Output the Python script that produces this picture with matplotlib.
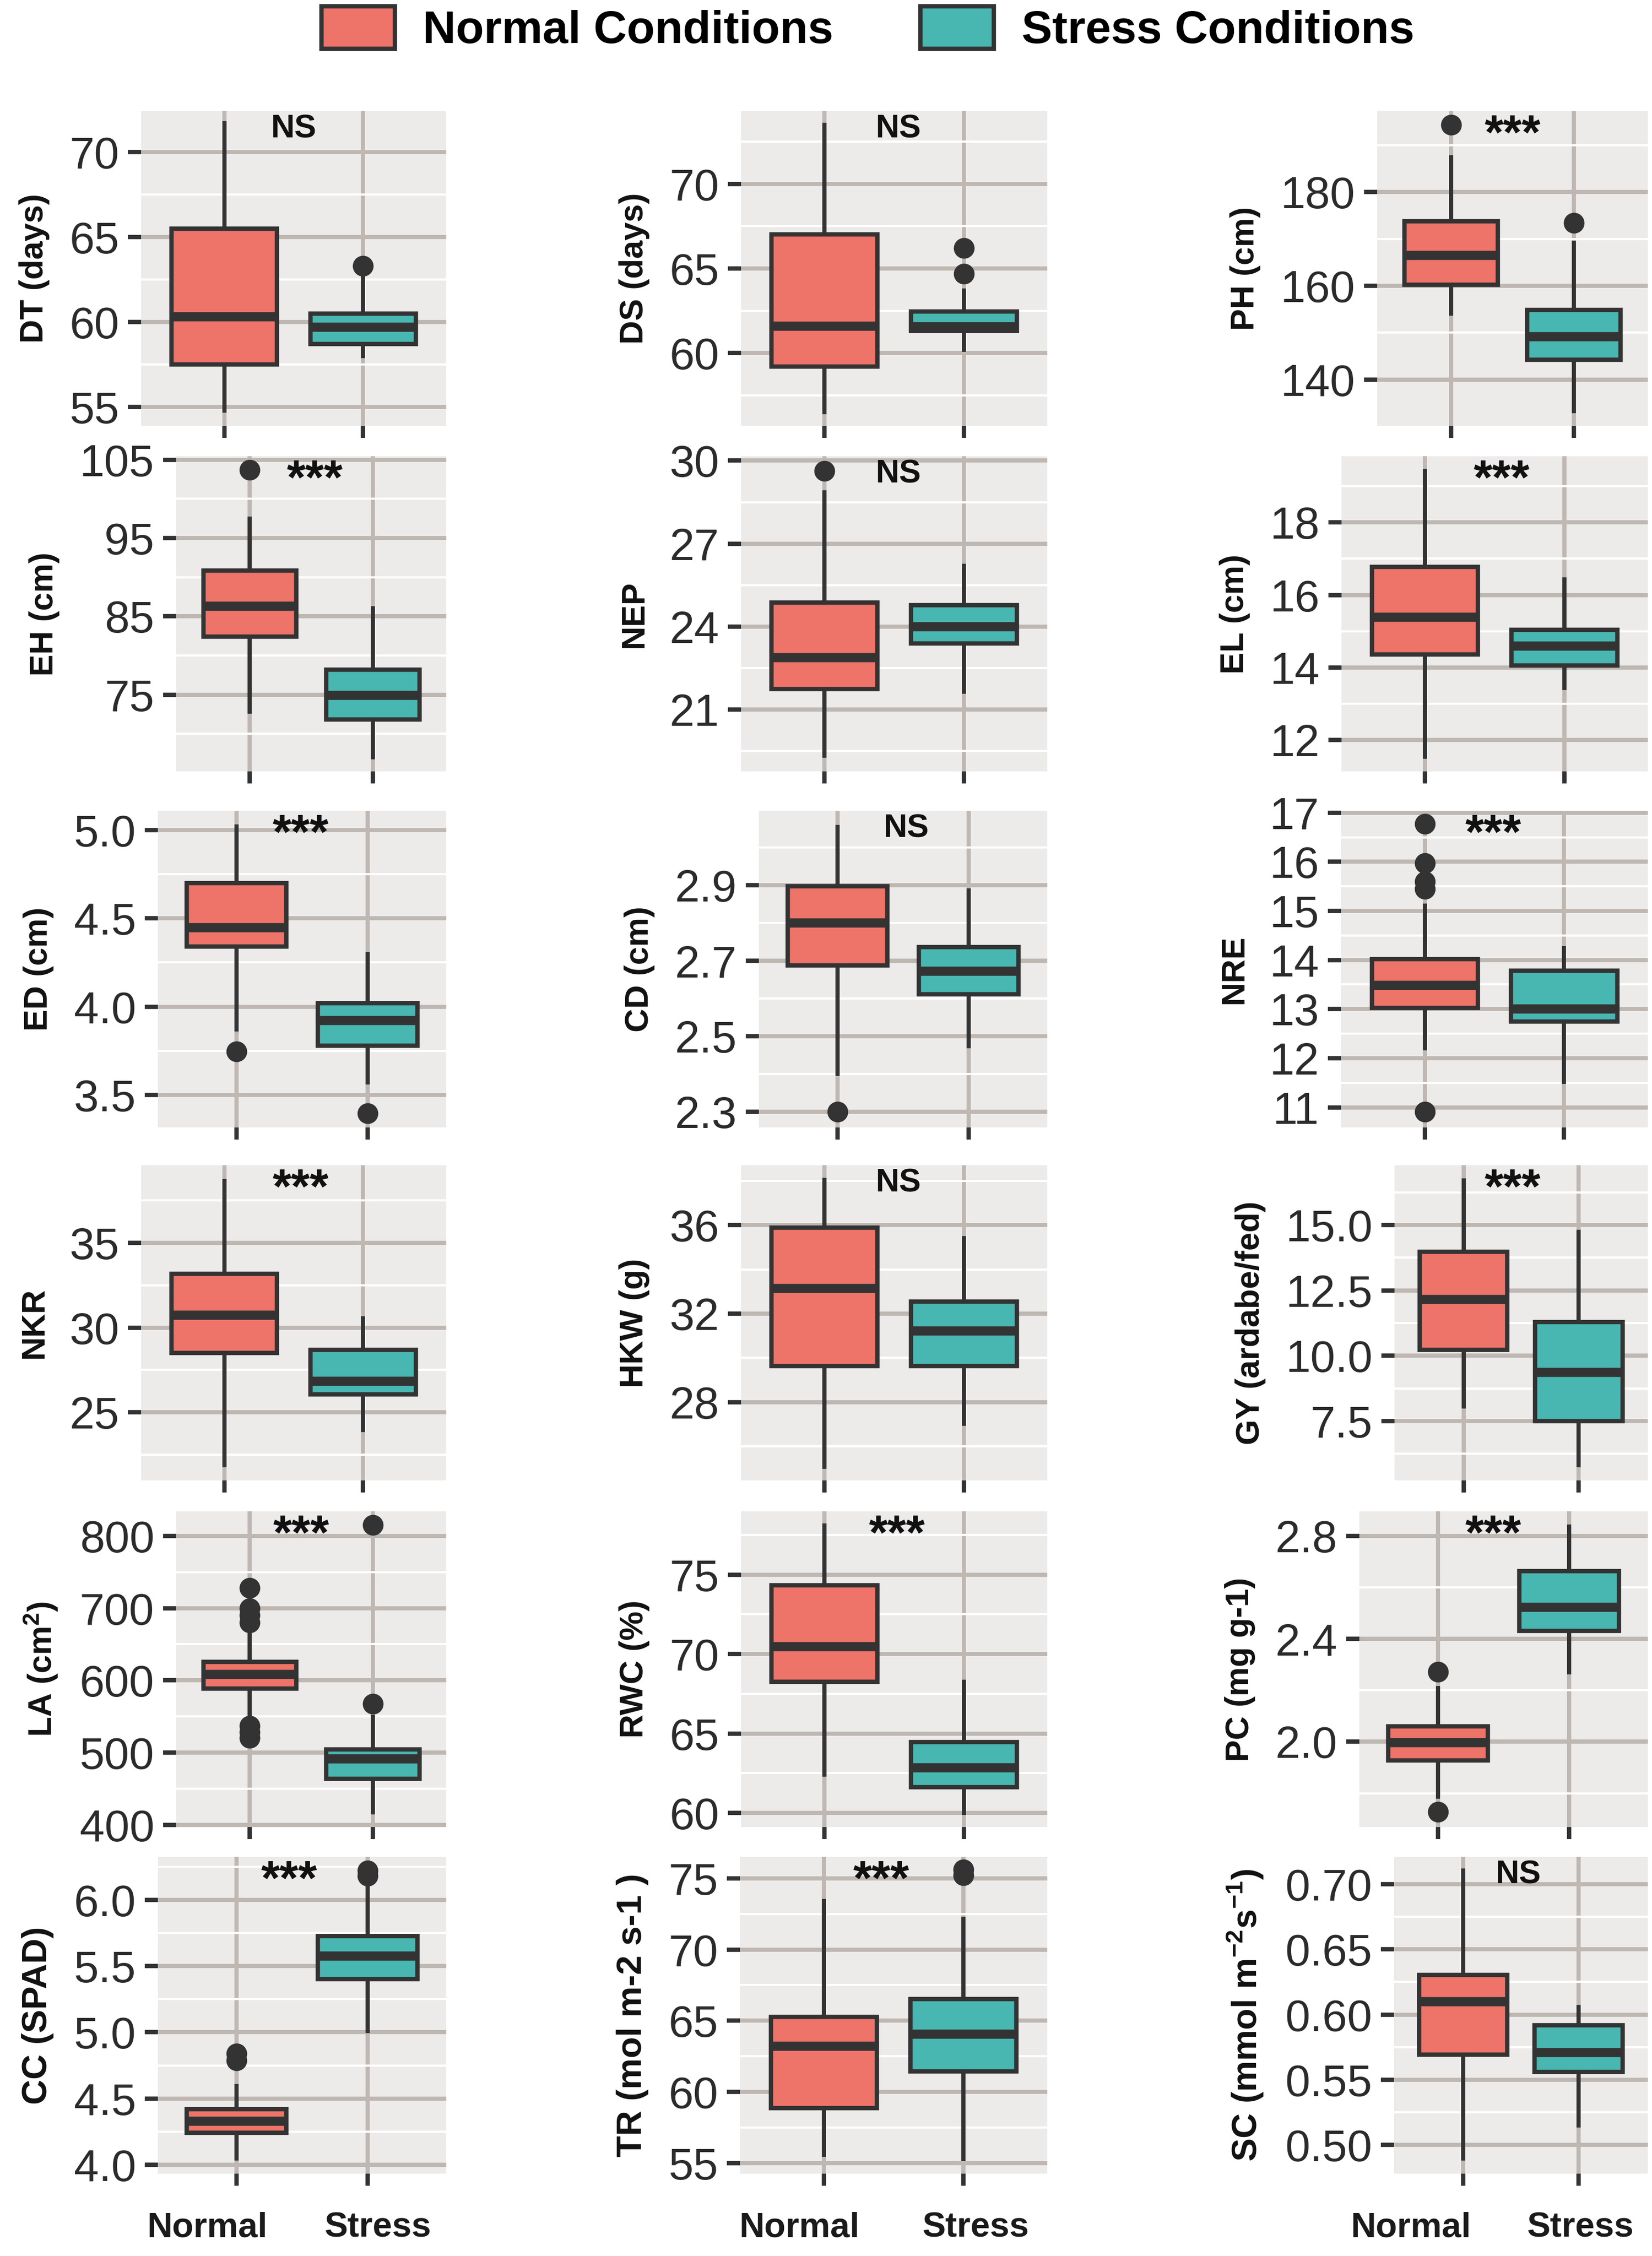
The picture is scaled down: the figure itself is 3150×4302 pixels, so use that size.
import matplotlib
matplotlib.use("Agg")
import matplotlib.pyplot as plt
import matplotlib.transforms as mtransforms
from matplotlib.patches import Patch
from matplotlib.ticker import FixedLocator

plt.rcParams["font.family"] = ["Liberation Sans", "DejaVu Sans"]
plt.rcParams["mathtext.fontset"] = "custom"
plt.rcParams["mathtext.rm"] = "Liberation Sans"
plt.rcParams["mathtext.bf"] = "Liberation Sans:bold"

# -------------------------
# Data
# -------------------------

groups = ["Normal", "Stress"]
legend_labels = ["Normal Conditions", "Stress Conditions"]

traits = ["DT", "DS", "PH", "EH", "NEP", "EL", "ED", "CD", "NRE",
          "NKR", "HKW", "GY", "LA", "RWC", "PC", "CC", "TR", "SC"]

ylabels = ["DT (days)", "DS (days)", "PH (cm)",
           "EH (cm)", "NEP", "EL (cm)",
           "ED (cm)", "CD (cm)", "NRE",
           "NKR", "HKW (g)", "GY (ardabe/fed)",
           r"LA (cm$^{\mathbf{2}}$)", "RWC (%)", "PC (mg g-1)",
           "CC (SPAD)", "TR (mol m-2 s-1 )",
           r"SC (mmol m$^{\mathbf{-2}}$s$^{\mathbf{-1}}$)"]

signif = ["NS", "NS", "***",
          "***", "NS", "***",
          "***", "NS", "***",
          "***", "NS", "***",
          "***", "***", "***",
          "***", "***", "NS"]

# whisker low, Q1, median, Q3, whisker high
normal_box = [
    [54.8, 57.5, 60.3, 65.5, 71.7],
    [56.5, 59.2, 61.6, 67.0, 73.5],
    [154.1, 160.2, 166.5, 173.8, 187.5],
    [72.85, 82.4, 86.3, 90.85, 97.5],
    [19.33, 21.73, 22.88, 24.87, 28.86],
    [11.54, 14.36, 15.39, 16.78, 19.42],
    [3.87, 4.34, 4.446, 4.70, 5.02],
    [2.40, 2.688, 2.80, 2.898, 3.055],
    [12.2, 13.03, 13.48, 14.02, 15.11],
    [21.88, 28.49, 30.73, 33.17, 38.65],
    [25.07, 29.64, 33.13, 35.88, 38.05],
    [8.05, 10.23, 12.16, 13.98, 16.71],
    [547, 588.2, 608.5, 625.9, 665.7],
    [62.42, 68.24, 70.45, 74.34, 78.1],
    [1.788, 1.927, 1.997, 2.06, 2.209],
    [4.046, 4.24, 4.33, 4.42, 4.595],
    [55.6, 58.85, 63.2, 65.26, 73.4],
    [0.4897, 0.5693, 0.61, 0.6306, 0.7106],
]

stress_box = [
    [58.0, 58.7, 59.7, 60.5, 62.7],
    [60.2, 61.3, 61.57, 62.45, 63.7],
    [133.2, 144.2, 149.1, 154.8, 169.2],
    [67.0, 71.8, 74.9, 78.2, 86.0],
    [21.64, 23.38, 24.0, 24.78, 26.2],
    [13.43, 14.05, 14.59, 15.04, 16.43],
    [3.57, 3.78, 3.92, 4.02, 4.30],
    [2.474, 2.611, 2.673, 2.736, 2.886],
    [11.52, 12.75, 13.0, 13.78, 14.24],
    [23.94, 26.07, 26.83, 28.69, 30.55],
    [27.01, 29.62, 31.22, 32.55, 35.42],
    [5.82, 7.5, 9.37, 11.3, 14.75],
    [417.4, 463.6, 491.4, 504.4, 549],
    [60.0, 61.61, 62.83, 64.46, 68.24],
    [2.269, 2.431, 2.522, 2.662, 2.836],
    [5.01, 5.403, 5.575, 5.727, 6.10],
    [55.3, 61.45, 64.07, 66.52, 72.17],
    [0.515, 0.5562, 0.571, 0.5918, 0.6057],
]

normal_out = [[], [], [194.4],
              [103.7], [29.63], [],
              [3.746], [2.30], [16.77, 15.97, 15.6, 15.45, 10.91],
              [], [], [],
              [728, 700, 690, 680, 537, 528, 520], [], [2.272, 1.728],
              [4.84, 4.79], [], []]

stress_out = [[63.3], [66.2, 64.7], [173.4],
              [], [], [],
              [3.396], [], [],
              [], [], [],
              [815, 567.5], [], [],
              [6.22, 6.18], [75.6, 75.2], []]

ylims = [(53.9, 72.4), (55.7, 74.3), (130.1, 197.3),
         (65.2, 105.45), (18.76, 30.16), (11.13, 19.83),
         (3.315, 5.11), (2.258, 3.098), (10.59, 17.04),
         (20.98, 39.58), (24.46, 38.71), (5.23, 17.29),
         (396.8, 834), (59.11, 78.98), (1.669, 2.895),
         (3.933, 6.324), (54.26, 76.5), (0.478, 0.7209)]

yticks = [[55, 60, 65, 70], [60, 65, 70], [140, 160, 180],
          [75, 85, 95, 105], [21, 24, 27, 30], [12, 14, 16, 18],
          [3.5, 4.0, 4.5, 5.0], [2.3, 2.5, 2.7, 2.9], [11, 12, 13, 14, 15, 16, 17],
          [25, 30, 35], [28, 32, 36], [7.5, 10.0, 12.5, 15.0],
          [400, 500, 600, 700, 800], [60, 65, 70, 75], [2.0, 2.4, 2.8],
          [4.0, 4.5, 5.0, 5.5, 6.0], [55, 60, 65, 70, 75], [0.50, 0.55, 0.60, 0.65, 0.70]]

tick_dec = [0, 0, 0, 0, 0, 0, 1, 1, 0, 0, 0, 1, 0, 0, 1, 1, 0, 2]

# -------------------------
# Layout (pixels of the 3150 x 4302 canvas)
# -------------------------

W, H = 3150, 4302
col_right = [851, 1997, 3142]
panel_left = [[269, 1413, 2626],
              [336, 1413, 2558],
              [301, 1447, 2557],
              [269, 1413, 2659],
              [336, 1413, 2592],
              [301, 1411, 2658]]
row_top = [212, 870, 1546, 2222, 2882, 3541]
row_bot = [812, 1471, 2150, 2823, 3484, 4145]
sig_x = [1.5, 1.53, 1.5, 1.53, 1.53, 1.55, 1.49, 1.525, 1.49,
         1.55, 1.53, 1.425, 1.42, 1.52, 1.42, 1.40, 1.41, 1.48]
# horizontal nudges (px) of the bottom "Normal" / "Stress" labels per column
xlab_shift = [(-56, 19), (-47, 23), (-100, 3)]

c_normal = "#EE7369"
c_stress = "#48B7B1"
dark = "#333333"
panel_bg = "#EDEBEA"
grid_major = "#BEB7B2"

fig = plt.figure(figsize=(W / 300, H / 300), dpi=300)
fig.patch.set_facecolor("white")

for i, trait in enumerate(traits):
    r, c = divmod(i, 3)
    x0, x1 = panel_left[r][c], col_right[c]
    y0, y1 = row_top[r], row_bot[r]
    ax = fig.add_axes([x0 / W, 1 - y1 / H, (x1 - x0) / W, (y1 - y0) / H])
    ax.set_facecolor(panel_bg)
    for s in ax.spines.values():
        s.set_visible(False)
    ax.set_axisbelow(True)

    stats = []
    for g, b, out in [(groups[0], normal_box[i], normal_out[i]),
                      (groups[1], stress_box[i], stress_out[i])]:
        stats.append(dict(label=g, whislo=b[0], q1=b[1], med=b[2],
                          q3=b[3], whishi=b[4], fliers=out))

    bp = ax.bxp(stats, positions=[1, 2], widths=0.76, patch_artist=True,
                showcaps=False,
                boxprops=dict(edgecolor=dark, linewidth=2.0),
                whiskerprops=dict(color=dark, linewidth=1.9),
                medianprops=dict(color=dark, linewidth=4.2,
                                 solid_capstyle="butt"),
                flierprops=dict(marker="o", markerfacecolor=dark,
                                markeredgecolor=dark, markersize=8.5))
    for box, col in zip(bp["boxes"], [c_normal, c_stress]):
        box.set_facecolor(col)

    ax.set_xlim(0.4, 2.6)
    ax.set_ylim(*ylims[i])

    ticks = yticks[i]
    step = ticks[1] - ticks[0]
    lo, hi = ylims[i]
    minors = []
    m = ticks[0] - step / 2
    while m < hi:
        if m > lo:
            minors.append(m)
        m += step
    ax.yaxis.set_major_locator(FixedLocator(ticks))
    ax.yaxis.set_minor_locator(FixedLocator(minors))
    ax.set_yticklabels([f"{t:.{tick_dec[i]}f}" for t in ticks])

    ax.grid(True, which="major", axis="both", color=grid_major, linewidth=1.9)
    ax.grid(True, which="minor", axis="y", color="white", linewidth=1.0)

    ax.tick_params(axis="y", which="major", length=6, width=2, color=dark,
                   labelsize=20.5, labelcolor="#2B2B2B", pad=4)
    ax.tick_params(axis="y", which="minor", length=0)
    ax.tick_params(axis="x", length=5.5, width=2, color=dark, pad=12)

    ax.set_xticks([1, 2])
    if r == 5:
        ax.set_xticklabels(groups, fontsize=16, fontweight="bold",
                           color="#1A1A1A")
        for lab, dx in zip(ax.get_xticklabels(), xlab_shift[c]):
            lab.set_transform(lab.get_transform() +
                              mtransforms.ScaledTranslation(dx / 300, 0,
                                                            fig.dpi_scale_trans))
    else:
        ax.set_xticklabels([])

    ysize = 16 if r == 5 else 15
    ax.set_ylabel(ylabels[i], fontsize=ysize, fontweight="bold",
                  color="#111111", labelpad=9)

    trans = mtransforms.blended_transform_factory(ax.transData, ax.transAxes)
    size = 15 if signif[i] == "NS" else 22
    ax.text(sig_x[i], 0.992, signif[i], transform=trans, ha="center",
            va="top", fontsize=size, fontweight="bold", color="#111111")

handles = [Patch(facecolor=c_normal, edgecolor=dark, linewidth=2),
           Patch(facecolor=c_stress, edgecolor=dark, linewidth=2)]
fig.legend(handles, legend_labels, loc="center",
           bbox_to_anchor=(1655 / W, 1 - 56 / H), ncol=2, frameon=False,
           prop=dict(weight="bold", size=21), handlelength=1.6,
           handleheight=1.05, handletextpad=0.6, columnspacing=1.9)

fig.savefig("out.png", dpi=300)
